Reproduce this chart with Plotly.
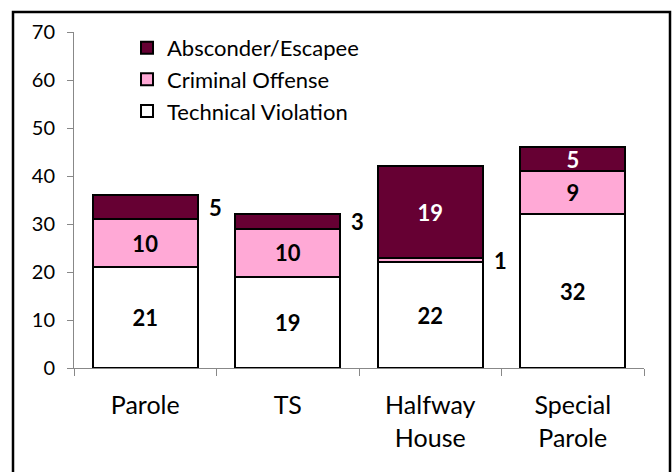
import plotly.graph_objects as go

categories = ["Parole", "TS", "Halfway<br>House", "Special<br>Parole"]
technical = [21, 19, 22, 32]
criminal = [10, 10, 1, 9]
absconder = [5, 3, 19, 5]
# which segment labels sit outside (to the right of) the bar
criminal_outside = [False, False, True, False]
absconder_outside = [True, True, False, False]

FONT = "Lato, Open Sans, sans-serif"
MAROON = "#660033"
PINK = "#FFA9D6"
LBL = 22

def inside_text(vals, outside):
    return [("" if o else str(v)) for v, o in zip(vals, outside)]

def bar(name, vals, texts, color, tcolor):
    return go.Bar(
        name=name, x=categories, y=vals,
        marker=dict(color=color, line=dict(color="black", width=2)),
        text=texts, textposition="inside", insidetextanchor="middle",
        textangle=0, constraintext="none",
        textfont=dict(color=tcolor, size=LBL, family=FONT, weight="bold"),
    )

fig = go.Figure()
fig.add_trace(bar("Technical Violation", technical, [str(v) for v in technical], "white", "black"))
fig.add_trace(bar("Criminal Offense", criminal, inside_text(criminal, criminal_outside), PINK, "black"))
fig.add_trace(bar("Absconder/Escapee", absconder, inside_text(absconder, absconder_outside), MAROON, "white"))

annotations = []
for i, c in enumerate(categories):
    if criminal_outside[i]:
        annotations.append(dict(x=c, y=technical[i] + criminal[i] / 2, text=str(criminal[i]),
                                showarrow=False, xshift=70,
                                font=dict(size=LBL, family=FONT, color="black", weight="bold")))
    if absconder_outside[i]:
        annotations.append(dict(x=c, y=technical[i] + criminal[i] + absconder[i] / 2, text=str(absconder[i]),
                                showarrow=False, xshift=70,
                                font=dict(size=LBL, family=FONT, color="black", weight="bold")))

W, H = 672, 472
L, R, T, B = 74, 28, 32, 104
pw, ph = W - L - R, H - T - B

fig.update_layout(
    barmode="stack",
    bargap=0.26,
    width=W, height=H,
    margin=dict(l=L, r=R, t=T, b=B, autoexpand=False),
    paper_bgcolor="white", plot_bgcolor="white",
    font=dict(family=FONT, color="black"),
    uniformtext=dict(minsize=8, mode="show"),
    showlegend=True,
    legend=dict(x=0.093, y=1.015, xanchor="left", yanchor="top",
                traceorder="reversed", font=dict(size=22, family=FONT),
                bgcolor="rgba(0,0,0,0)", itemwidth=30, tracegroupgap=0),
    annotations=annotations,
    shapes=[dict(type="rect", xref="paper", yref="paper",
                 x0=(13 - L) / pw, x1=(670 - L) / pw,
                 y0=-0.4, y1=1 + (T - 12) / ph,
                 line=dict(color="black", width=2.5), fillcolor="rgba(0,0,0,0)")],
)
fig.update_xaxes(showline=True, linecolor="#888888", linewidth=1,
                 ticks="outside", tickson="boundaries", ticklen=7, tickcolor="#888888",
                 tickfont=dict(size=25, family=FONT), showgrid=False,
                 ticklabelstandoff=15, automargin=False)
fig.update_yaxes(range=[0, 70], dtick=10, showline=True, linecolor="#888888", linewidth=1,
                 ticks="outside", ticklen=6, tickcolor="#888888",
                 tickfont=dict(size=20, family=FONT), showgrid=False, zeroline=False,
                 ticklabelstandoff=8, automargin=False)

fig.write_html("out.html",
               config={"displayModeBar": False},
               post_script="document.body.style.margin='0';document.body.style.overflow='hidden';")
